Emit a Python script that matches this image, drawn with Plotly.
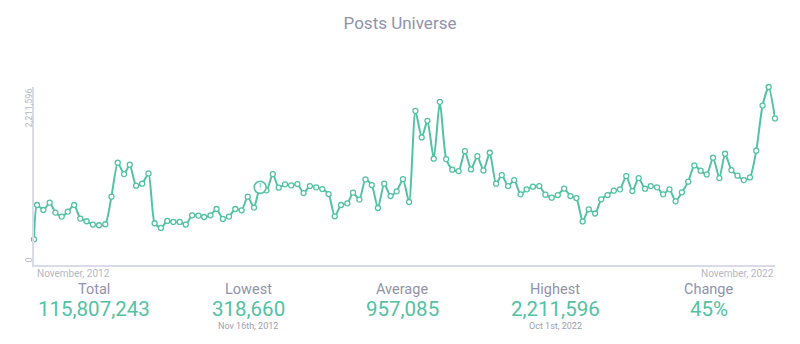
import pandas as pd
import plotly.graph_objects as go

# Monthly post counts: a partial first period starting Nov 16th 2012,
# then one value per month start through November 2022.
first_period = "2012-11-16"
month_starts = pd.date_range("2012-12-01", "2022-11-01", freq="MS")
dates = [pd.Timestamp(first_period)] + list(month_starts)

posts = [
    318660, 745300, 683300, 775100, 651100, 601500, 663500, 745300, 576700, 543300,
    502400, 493700, 506100, 849400, 1270900, 1129600, 1246100, 985800, 1010600, 1138300,
    518500, 460200, 547000, 534600, 534600, 502400, 617600, 613900, 596600, 617600,
    695700, 573000, 601500, 695700, 679600, 849400, 713100, 964700, 927500, 1129600,
    961000, 1001900, 989500, 1005600, 894100, 980800, 964700, 943600, 881700, 605200,
    745300, 766400, 899000, 812300, 1063900, 993200, 708100, 1010600, 856900, 915100,
    1066400, 782500, 1915500, 1584500, 1791500, 1320500, 2027100, 1315500, 1184100, 1166800,
    1414700, 1187900, 1352700, 1175500, 1394900, 1010600, 1117200, 980800, 1055200, 877900,
    939900, 973400, 980800, 874200, 837000, 869300, 948600, 856900, 832100, 540800,
    692000, 639900, 816000, 869300, 923800, 939900, 1104800, 918900, 1080000, 948600,
    980800, 964700, 877900, 939900, 791200, 902700, 1035400, 1237400, 1171700, 1125900,
    1332900, 1080000, 1382500, 1179200, 1109800, 1055200, 1088700, 1420900, 1981200, 2211596,
    1821287,
]

# Index of the flagged (annotated) month
flag_index = 37

stat_labels = ["Total", "Lowest", "Average", "Highest", "Change"]
stat_notes = ["", "Nov 16th, 2012", "", "Oct 1st, 2022", ""]
change_text = "45%"
range_labels = ["November, 2012", "November, 2022"]

total = sum(posts)
lowest = min(posts)
highest = max(posts)
average = round(total / len(posts))
stat_values = [f"{total:,}", f"{lowest:,}", f"{average:,}", f"{highest:,}", change_text]

TEAL = "#52c2a3"
SLATE = "#9093aa"
AXIS = "#d9dce8"
MUTED = "#b4b7c3"
FONT = "Roboto"

W, H = 800, 344
L, R, T, B = 34, 25, 87, 79


def px_x(p):
    return (p - L) / (W - L - R)


def px_y(p):
    return (H - B - p) / (H - T - B)


fig = go.Figure()
fig.add_trace(go.Scatter(
    x=dates, y=posts, mode="lines+markers",
    line=dict(color=TEAL, width=2, shape="spline", smoothing=0.6),
    marker=dict(symbol="circle", size=5, color="white", line=dict(color=TEAL, width=1.3)),
    cliponaxis=False, hoverinfo="skip",
))
fig.add_trace(go.Scatter(
    x=[dates[flag_index]], y=[posts[flag_index]], mode="markers+text",
    marker=dict(symbol="circle", size=12, color="white", line=dict(color=TEAL, width=1.5)),
    text=["!"], textposition="middle center",
    textfont=dict(family=FONT, size=9, color=TEAL),
    cliponaxis=False, hoverinfo="skip",
))

annotations = []
# y-axis extent labels, rotated
annotations.append(dict(
    text=f"{highest:,}", textangle=-90, x=px_x(28), xref="paper", xanchor="center",
    y=highest, yref="y", yanchor="top", showarrow=False,
    font=dict(family=FONT, size=9, color=MUTED),
))
annotations.append(dict(
    text="0", textangle=-90, x=px_x(28), xref="paper", xanchor="center",
    y=0, yref="y", yanchor="bottom", showarrow=False,
    font=dict(family=FONT, size=9, color=MUTED),
))
# date range under the axis
annotations.append(dict(
    text=range_labels[0], x=px_x(35), xref="paper", xanchor="left",
    y=px_y(273), yref="paper", yanchor="middle", showarrow=False,
    font=dict(family=FONT, size=10, color=MUTED),
))
annotations.append(dict(
    text=range_labels[1], x=px_x(776), xref="paper", xanchor="right",
    y=px_y(273), yref="paper", yanchor="middle", showarrow=False,
    font=dict(family=FONT, size=10, color=MUTED),
))

centers = [93.5, 248, 402, 555, 708.5]
for cx, lab, val, note in zip(centers, stat_labels, stat_values, stat_notes):
    annotations.append(dict(
        text=lab, x=px_x(cx), xref="paper", xanchor="center",
        y=px_y(289.5), yref="paper", yanchor="middle", showarrow=False,
        font=dict(family=FONT, size=14.5, color=SLATE),
    ))
    annotations.append(dict(
        text=val, x=px_x(cx), xref="paper", xanchor="center",
        y=px_y(309), yref="paper", yanchor="middle", showarrow=False,
        font=dict(family=FONT, size=20.5, color=TEAL),
    ))
    if note:
        annotations.append(dict(
            text=note, x=px_x(cx), xref="paper", xanchor="center",
            y=px_y(325.5), yref="paper", yanchor="middle", showarrow=False,
            font=dict(family=FONT, size=9, color="#9da1b0"),
        ))

fig.update_layout(
    width=W, height=H,
    margin=dict(l=L, r=R, t=T, b=B, pad=0),
    paper_bgcolor="white", plot_bgcolor="white",
    showlegend=False,
    title=dict(
        text="Posts Universe", x=0.5, xref="container", xanchor="center",
        y=1 - 23 / H, yref="container", yanchor="middle",
        font=dict(family=FONT, size=17, color=SLATE),
    ),
    xaxis=dict(
        range=[dates[0], dates[-1]], showgrid=False, zeroline=False,
        showline=True, linecolor=AXIS, linewidth=2, showticklabels=False, ticks="",
    ),
    yaxis=dict(
        range=[0, highest], showgrid=False, zeroline=False,
        showline=True, linecolor=AXIS, linewidth=1.5, showticklabels=False, ticks="",
    ),
    annotations=annotations,
    hovermode=False,
)

fig.write_html("out.html", config={"displayModeBar": False})
